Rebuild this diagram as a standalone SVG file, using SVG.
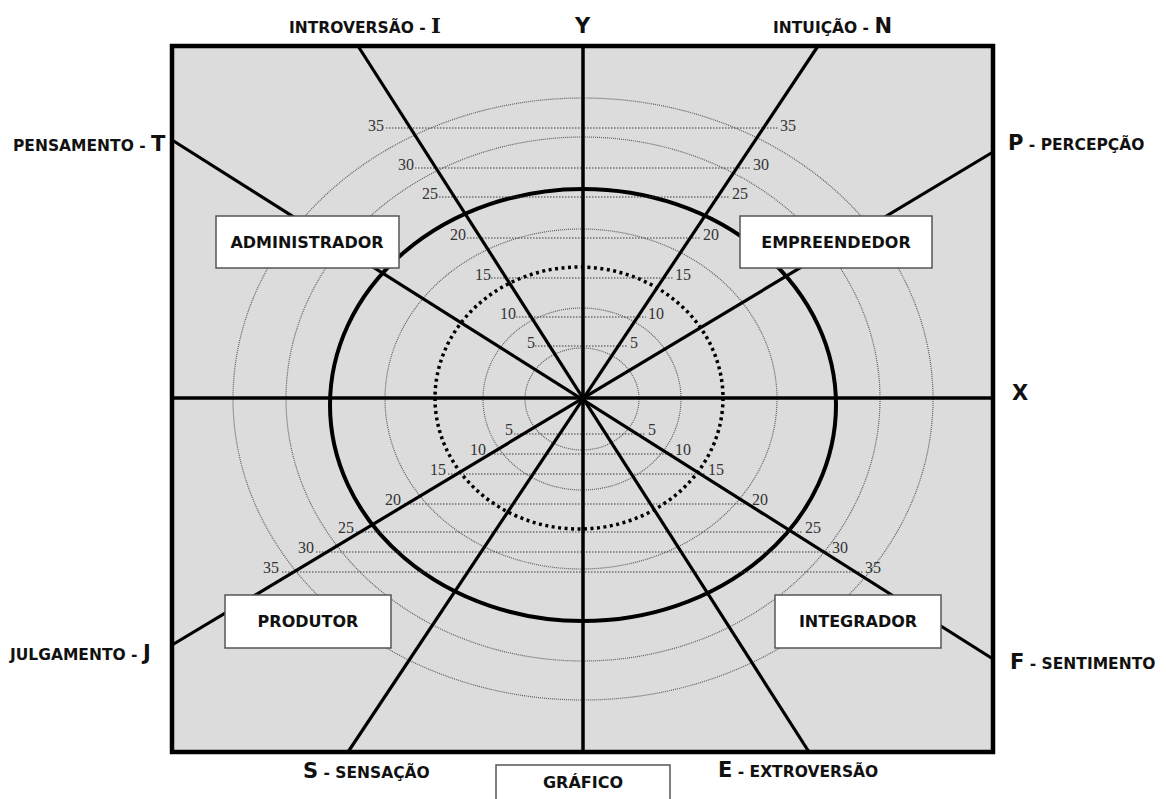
<svg xmlns="http://www.w3.org/2000/svg" width="1166" height="799" viewBox="0 0 1166 799">
  <style>
    .bg { fill: #dcdcdc; }
    .frame { fill: none; stroke: #000; stroke-width: 4.5; }
    .ring { fill: none; stroke: #5e5e5e; stroke-width: 1.2; stroke-dasharray: 1 1; }
    .dot-ring { fill: none; stroke: #000; stroke-width: 3.5; stroke-dasharray: 3 3.5; }
    .main-ring { fill: none; stroke: #000; stroke-width: 4; }
    .axis { stroke: #000; stroke-width: 3.5; }
    .ray { stroke: #000; stroke-width: 3.2; }
    .level { stroke: #3a3a3a; stroke-width: 1.2; stroke-dasharray: 1.5 1.5; }
    .num { font-family: "Liberation Serif", serif; font-size: 16px; fill: #333; }
    .box rect { fill: #fff; stroke: #555; stroke-width: 1.5; }
    .box text { font-family: "DejaVu Sans", Verdana, sans-serif; font-weight: bold; font-size: 16px; fill: #111; text-anchor: middle; }
    .lbl { font-family: "DejaVu Sans", Verdana, sans-serif; font-weight: bold; font-size: 15.5px; fill: #111; }
    .big { font-size: 21px; }
  </style>

  <!-- plotting area -->
  <rect class="bg" x="172" y="46" width="821" height="706"/>

  <!-- concentric scale rings -->
  <g id="rings">
    <ellipse class="ring" cx="582" cy="399" rx="57" ry="51"/>
    <ellipse class="ring" cx="582" cy="399" rx="99" ry="91"/>
    <ellipse class="ring" cx="581" cy="399" rx="196" ry="170"/>
    <ellipse class="ring" cx="583" cy="399" rx="297" ry="262"/>
    <ellipse class="ring" cx="583" cy="399" rx="350" ry="301"/>
    <ellipse class="dot-ring" cx="579" cy="398" rx="144" ry="131"/>
    <ellipse class="main-ring" cx="583" cy="405" rx="253" ry="216"/>
  </g>

  <!-- level lines with values -->
  <g id="levels">
    <line class="level" x1="386" y1="128" x2="778" y2="128"/>
    <line class="level" x1="415" y1="168" x2="751" y2="168"/>
    <line class="level" x1="439" y1="197" x2="730" y2="197"/>
    <line class="level" x1="467" y1="238" x2="701" y2="238"/>
    <line class="level" x1="491" y1="278" x2="673" y2="278"/>
    <line class="level" x1="516" y1="317" x2="646" y2="317"/>
    <line class="level" x1="535" y1="346" x2="628" y2="346"/>

    <line class="level" x1="514" y1="434" x2="646" y2="434"/>
    <line class="level" x1="488" y1="454" x2="673" y2="454"/>
    <line class="level" x1="448" y1="474" x2="706" y2="474"/>
    <line class="level" x1="404" y1="504" x2="750" y2="504"/>
    <line class="level" x1="356" y1="532" x2="803" y2="532"/>
    <line class="level" x1="316" y1="552" x2="830" y2="552"/>
    <line class="level" x1="282" y1="572" x2="863" y2="572"/>

    <text class="num" x="368" y="131">35</text>
    <text class="num" x="398" y="170">30</text>
    <text class="num" x="422" y="199">25</text>
    <text class="num" x="450" y="240">20</text>
    <text class="num" x="475" y="280">15</text>
    <text class="num" x="500" y="319">10</text>
    <text class="num" x="527" y="348">5</text>
    <text class="num" x="780" y="131">35</text>
    <text class="num" x="753" y="170">30</text>
    <text class="num" x="732" y="199">25</text>
    <text class="num" x="703" y="240">20</text>
    <text class="num" x="675" y="280">15</text>
    <text class="num" x="648" y="319">10</text>
    <text class="num" x="630" y="348">5</text>

    <text class="num" x="505" y="435">5</text>
    <text class="num" x="470" y="455">10</text>
    <text class="num" x="430" y="475">15</text>
    <text class="num" x="385" y="505">20</text>
    <text class="num" x="338" y="533">25</text>
    <text class="num" x="298" y="553">30</text>
    <text class="num" x="263" y="573">35</text>
    <text class="num" x="648" y="435">5</text>
    <text class="num" x="675" y="455">10</text>
    <text class="num" x="708" y="475">15</text>
    <text class="num" x="752" y="505">20</text>
    <text class="num" x="805" y="533">25</text>
    <text class="num" x="832" y="553">30</text>
    <text class="num" x="865" y="573">35</text>
  </g>

  <!-- axes and the four diagonal dimension lines -->
  <g id="connectors">
    <line class="axis" x1="583" y1="46" x2="583" y2="752"/>
    <line class="axis" x1="172" y1="398" x2="993" y2="398"/>
    <line class="ray" x1="358" y1="46" x2="809" y2="752"/>
    <line class="ray" x1="818" y1="46" x2="348" y2="752"/>
    <line class="ray" x1="172" y1="140" x2="993" y2="659"/>
    <line class="ray" x1="993" y1="152" x2="172" y2="645"/>
  </g>

  <rect class="frame" x="172" y="46" width="821" height="706"/>

  <!-- quadrant boxes -->
  <g id="administrador" class="box">
    <rect x="216" y="216" width="183" height="52"/>
    <text x="307" y="248">ADMINISTRADOR</text>
  </g>
  <g id="empreendedor" class="box">
    <rect x="740" y="216" width="192" height="52"/>
    <text x="836" y="248">EMPREENDEDOR</text>
  </g>
  <g id="produtor" class="box">
    <rect x="225" y="595" width="166" height="53"/>
    <text x="308" y="627">PRODUTOR</text>
  </g>
  <g id="integrador" class="box">
    <rect x="775" y="595" width="166" height="53"/>
    <text x="858" y="627">INTEGRADOR</text>
  </g>
  <g id="grafico" class="box">
    <rect x="496" y="765" width="174" height="40"/>
    <text x="583" y="788">GRÁFICO</text>
  </g>

  <!-- pole labels -->
  <g id="labels">
    <text class="lbl" x="289" y="33"><tspan>INTROVERSÃO - </tspan><tspan class="big" font-family="DejaVu Serif, serif">I</tspan></text>
    <text class="lbl big" x="575" y="33">Y</text>
    <text class="lbl" x="773" y="33"><tspan>INTUIÇÃO - </tspan><tspan class="big">N</tspan></text>
    <text class="lbl" x="13" y="151"><tspan>PENSAMENTO - </tspan><tspan class="big">T</tspan></text>
    <text class="lbl" x="1008" y="150"><tspan class="big">P</tspan><tspan> - PERCEPÇÃO</tspan></text>
    <text class="lbl big" x="1012" y="400">X</text>
    <text class="lbl" x="10" y="660"><tspan>JULGAMENTO - </tspan><tspan class="big">J</tspan></text>
    <text class="lbl" x="1010" y="669"><tspan class="big">F</tspan><tspan> - SENTIMENTO</tspan></text>
    <text class="lbl" x="303" y="778"><tspan class="big">S</tspan><tspan> - SENSAÇÃO</tspan></text>
    <text class="lbl" x="718" y="777"><tspan class="big">E</tspan><tspan> - EXTROVERSÃO</tspan></text>
  </g>
</svg>
